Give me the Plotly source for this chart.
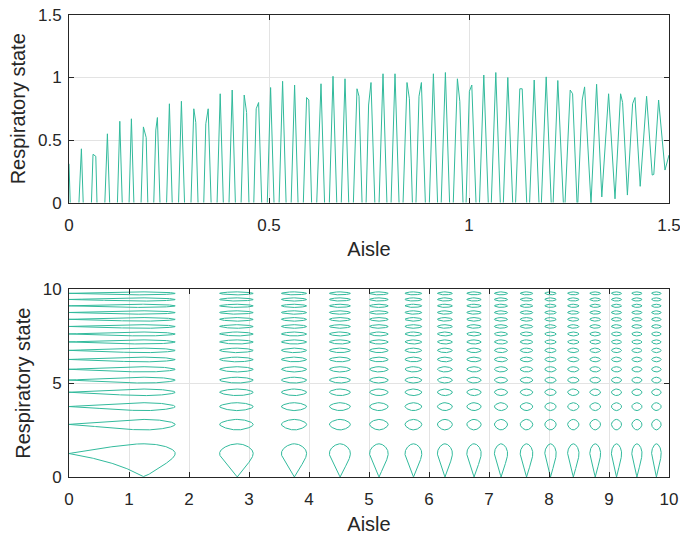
import numpy as np
import plotly.graph_objects as go

# ---------------- top panel data ----------------
peak_x = [0.031, 0.060, 0.096, 0.127, 0.156, 0.186, 0.221, 0.251, 0.281, 0.312,
          0.348, 0.378, 0.408, 0.438, 0.474, 0.504, 0.534, 0.564, 0.594, 0.630,
          0.660, 0.690, 0.720, 0.755, 0.785, 0.815, 0.845, 0.881, 0.911, 0.941,
          0.971, 1.007, 1.037, 1.067, 1.097, 1.127, 1.163, 1.193, 1.222, 1.253,
          1.289, 1.319, 1.349, 1.379, 1.415, 1.444, 1.474]
peak_y = [0.43, 0.386, 0.55, 0.65, 0.67, 0.605, 0.68, 0.79, 0.81, 0.75,
          0.75, 0.87, 0.90, 0.86, 0.80, 0.92, 0.97, 0.94, 0.84, 0.95,
          1.01, 0.99, 0.91, 0.96, 1.03, 1.03, 0.96, 0.96, 1.03, 1.04,
          0.99, 0.94, 1.02, 1.04, 1.00, 0.91, 0.98, 1.005, 0.976, 0.90,
          0.925, 0.946, 0.87, 0.87, 0.84, 0.85, 0.82]
trough_x = [0.012, 0.046, 0.078, 0.112, 0.142, 0.171, 0.204, 0.236, 0.266, 0.297,
            0.330, 0.363, 0.393, 0.423, 0.456, 0.489, 0.519, 0.549, 0.579, 0.612,
            0.645, 0.675, 0.705, 0.738, 0.770, 0.800, 0.830, 0.863, 0.896, 0.926,
            0.956, 0.989, 1.022, 1.052, 1.082, 1.113, 1.148, 1.178, 1.208, 1.238,
            1.271, 1.305, 1.332, 1.365, 1.396, 1.428, 1.458, 1.490]
trough_y = [-0.9, -1.0, -1.0, -1.0, -0.95, -0.95, -0.9, -0.9, -0.9, -0.85,
            -0.85, -0.8, -0.8, -0.8, -0.75, -0.75, -0.7, -0.7, -0.7, -0.65,
            -0.65, -0.6, -0.6, -0.6, -0.55, -0.55, -0.5, -0.5, -0.5, -0.45,
            -0.45, -0.4, -0.4, -0.35, -0.35, -0.3, -0.3, -0.25, -0.2, -0.15,
            -0.08, -0.01, 0.045, 0.03, 0.06, 0.13, 0.22, 0.26]
extra_x = [0.0, 0.067, 0.193, 0.217, 0.317, 0.342, 0.444, 0.468, 0.5995, 0.725,
           0.749, 0.851, 0.875, 0.977, 1.001, 1.133, 1.259, 1.283, 1.384, 1.409,
           1.462, 1.5]
extra_y = [0.31, 0.37, 0.52, 0.58, 0.64, 0.63, 0.72, 0.75, 0.82, 0.85,
           0.78, 0.83, 0.85, 0.81, 0.89, 0.91, 0.87, 0.82, 0.80, 0.79,
           0.225, 0.38]

# ---------------- bottom panel data ----------------
# extents of the closed curves along each axis (columns and rows)
col_lo = [0.0, 2.51, 3.54, 4.34, 5.01, 5.60, 6.14, 6.63, 7.09, 7.52, 7.93, 8.31, 8.68, 9.04, 9.38, 9.71]
col_hi = [1.77, 3.07, 3.96, 4.69, 5.32, 5.88, 6.39, 6.87, 7.31, 7.73, 8.12, 8.50, 8.86, 9.21, 9.55, 9.87]
row_lo = [0.0, 2.51, 3.54, 4.34, 5.01, 5.60, 6.14, 6.63, 7.09, 7.52, 7.93, 8.31, 8.68, 9.04, 9.38, 9.71]
row_hi = [1.77, 3.07, 3.96, 4.69, 5.32, 5.88, 6.39, 6.87, 7.31, 7.73, 8.12, 8.50, 8.86, 9.21, 9.55, 9.87]

top_ticks = [0, 0.5, 1, 1.5]
top_ticktext = ["0", "0.5", "1", "1.5"]
bot_xticks = list(range(0, 11))
bot_yticks = [0, 5, 10]

LINE = "rgb(50,186,156)"
AX = "#262626"
GRID = "#e3e3e3"
FONT = "Liberation Sans, Arial, sans-serif"

# assemble top polyline (sorted by x)
px = np.array(peak_x + trough_x + extra_x)
py = np.array(peak_y + trough_y + extra_y)
order = np.argsort(px, kind="stable")
top_x = px[order]
top_y = py[order]

# closed outlines for the bottom panel
phi = np.linspace(0, 2 * np.pi, 301)
s = np.clip(np.cos(phi) ** 2, 0, 1)
t = np.clip(np.sin(phi) ** 2, 0, 1)
du = 0.5 - np.arcsin(s) / np.pi
dv = 0.5 - np.arcsin(t) / np.pi
u = 0.5 + np.sign(np.sin(phi)) * du
v = 0.5 + np.sign(np.cos(phi)) * dv
bx, by = [], []
for a, b in zip(col_lo, col_hi):
    xs = np.sqrt(a * a + u * (b * b - a * a))
    for c, d in zip(row_lo, row_hi):
        ys = np.sqrt(c * c + v * (d * d - c * c))
        bx.extend(xs.tolist() + [None])
        by.extend(ys.tolist() + [None])

fig = go.Figure()
fig.add_trace(go.Scatter(x=top_x, y=top_y, mode="lines",
                         line=dict(color=LINE, width=1), xaxis="x", yaxis="y",
                         showlegend=False, hoverinfo="skip"))
fig.add_trace(go.Scatter(x=bx, y=by, mode="lines",
                         line=dict(color=LINE, width=1), xaxis="x2", yaxis="y2",
                         showlegend=False, hoverinfo="skip", connectgaps=False))

axis_common = dict(showline=True, linecolor=AX, linewidth=1, mirror="ticks",
                   ticks="inside", ticklen=5, tickcolor=AX, tickwidth=1,
                   showgrid=True, gridcolor=GRID, gridwidth=1, zeroline=False,
                   tickfont=dict(family=FONT, size=17, color=AX),
                   ticklabeloverflow="allow", automargin=False)
TFONT = dict(family=FONT, size=20, color=AX)

fig.update_layout(
    width=680, height=538,
    margin=dict(l=69, r=11, t=15, b=61),
    paper_bgcolor="white", plot_bgcolor="white",
    xaxis=dict(domain=[0, 1], anchor="y", range=[0, 1.5], tickvals=top_ticks,
               ticktext=top_ticktext, ticklabelstandoff=7,
               title=dict(text="Aisle", font=TFONT, standoff=8),
               **axis_common),
    yaxis=dict(domain=[0.594, 1], anchor="x", range=[0, 1.5], tickvals=top_ticks,
               ticktext=top_ticktext, ticklabelstandoff=3,
               title=dict(text="Respiratory state", font=TFONT, standoff=6),
               **axis_common),
    xaxis2=dict(domain=[0, 1], anchor="y2", range=[0, 10], tickvals=bot_xticks,
                ticklabelstandoff=7,
                title=dict(text="Aisle", font=TFONT, standoff=8),
                **axis_common),
    yaxis2=dict(domain=[0, 0.406], anchor="x2", range=[0, 10], tickvals=bot_yticks,
                ticklabelstandoff=3,
                title=dict(text="Respiratory state", font=TFONT, standoff=6),
                **axis_common),
)

fig.write_html("out.html")
